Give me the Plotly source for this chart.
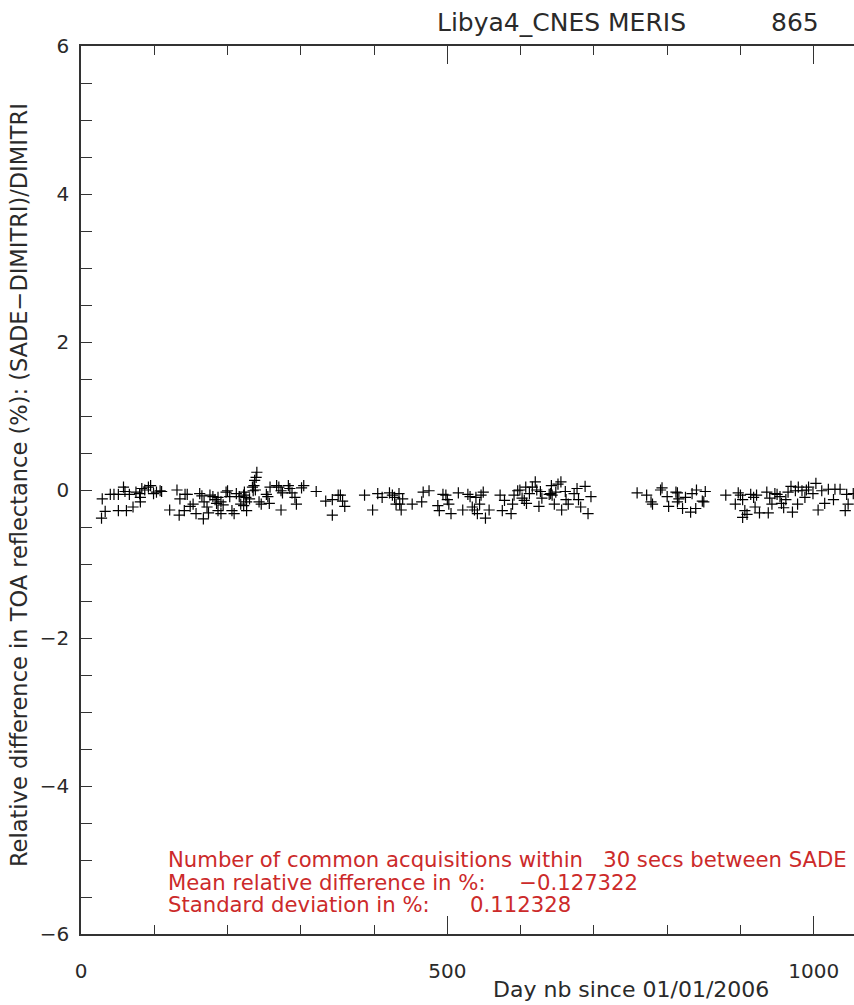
import plotly.graph_objects as go

# Day number since 01/01/2006
days = [
    28, 29, 33, 40, 45, 51, 51, 58, 60, 62, 66, 71, 75, 80, 81, 81, 83, 87, 92, 95,
    99, 103, 108, 110, 121, 131, 134, 135, 141, 142, 145, 149, 153, 157, 162, 165, 167, 168, 172, 174,
    176, 180, 183, 185, 187, 187, 191, 191, 194, 198, 200, 203, 206, 209, 212, 216, 218, 222, 222,
    223, 225, 226, 226, 230, 234, 235, 236, 237, 238, 239, 240, 243, 246, 253, 255, 257, 258, 267,
    270, 273, 273, 275, 283, 285, 288, 292, 294, 301, 304, 321, 334, 343, 343, 351, 354, 357, 360,
    387, 398, 405, 411, 421, 425, 428, 430,
    434, 435, 437, 439, 452, 465, 467, 475, 487, 489, 494, 498, 500, 502, 505, 515, 521, 528, 531,
    534, 537, 539, 541, 544, 546, 549, 552, 557, 572, 575, 578, 587, 589, 591, 596, 599, 602, 605,
    607, 608, 612, 616, 620, 622, 625, 627, 629, 639,
    641, 642, 643, 646, 648, 651, 655, 656, 661, 662, 665, 673, 677, 679, 682, 688, 692, 696,
    759, 772, 778, 780, 791, 793, 800, 802, 812, 814, 814, 816, 821, 825, 832, 834, 839, 840, 848,
    850, 852, 880, 893, 897, 900, 903, 903, 906, 909, 914, 918, 920, 922, 926, 936, 938, 940, 943,
    947, 950, 954, 956, 959, 962, 965, 969, 971, 975, 978, 979, 984, 988, 990, 993, 999, 1003, 1006,
    1011, 1015, 1020, 1027, 1029, 1036, 1043, 1045, 1047, 1054,
]

# Relative difference in %
rel_diff = [
    -0.38, -0.12, -0.29, -0.06, -0.06, -0.06, -0.28, 0.04, -0.02, -0.28, -0.06, -0.23, -0.03, -0.05, -0.10, -0.16, 0.02, 0.00, 0.04, 0.06,
    -0.05, -0.03, -0.01, -0.02, -0.27, 0.00, -0.34, -0.12, -0.28, -0.06, -0.06, -0.22, -0.19, -0.32, -0.05, -0.08, -0.39, -0.16, -0.23, -0.31,
    -0.07, -0.09, -0.13, -0.18, -0.10, -0.28, -0.16, -0.32, -0.20, -0.03, -0.01, -0.09, -0.28, -0.32, -0.05, -0.09, -0.19, -0.07, -0.21,
    -0.03, -0.10, -0.16, -0.28, -0.12, 0.04, -0.01, 0.06, 0.13, 0.00, 0.17, 0.24, -0.16, -0.19, -0.06, -0.09, -0.18, 0.04, 0.06,
    0.04, -0.01, -0.27, -0.04, 0.06, 0.02, -0.04, -0.10, -0.19, 0.03, 0.06, -0.02, -0.15, -0.13, -0.34, -0.07, -0.07, -0.15, -0.22,
    -0.07, -0.27, -0.05, -0.10, -0.04, -0.07, -0.10, -0.19,
    -0.05, -0.19, -0.27, -0.12, -0.19, -0.16, -0.03, -0.01, -0.21, -0.28, -0.06, -0.07, -0.13, -0.19, -0.32, -0.04, -0.27, -0.06, -0.09,
    -0.23, -0.27, -0.10, -0.32, -0.19, -0.07, -0.03, -0.38, -0.27, -0.07, -0.28, -0.14, -0.32, -0.19, -0.07, -0.01, 0.00, -0.11, -0.14,
    0.04, -0.18, -0.05, 0.04, 0.11, 0.00, -0.22, -0.02, -0.11, -0.06,
    -0.05, 0.06, -0.07, -0.19, -0.03, 0.08, 0.11, -0.27, -0.02, -0.13, -0.19, -0.05, 0.02, -0.13, -0.23, 0.05, -0.32, -0.09,
    -0.04, -0.07, -0.16, -0.19, 0.00, 0.03, -0.09, -0.22, -0.03, -0.04, -0.16, -0.12, -0.25, -0.10, -0.30, -0.05, -0.25, 0.00, -0.15,
    -0.16, -0.02, -0.07, -0.19, -0.04, -0.07, -0.13, -0.37, -0.28, -0.33, -0.06, -0.10, -0.23, -0.07, -0.31, -0.03, -0.31, -0.11, -0.19,
    -0.05, -0.06, -0.09, -0.18, -0.24, -0.13, -0.03, 0.05, -0.30, -0.01, -0.19, 0.04, -0.01, -0.10, 0.00, 0.04, -0.05, 0.09, -0.27,
    -0.01, -0.18, 0.01, -0.13, 0.01, 0.01, -0.28, -0.06, -0.19, -0.05,
]

title_left = "Libya4_CNES MERIS"
title_band = "865"
x_title = "Day nb since 01/01/2006"
y_title = "Relative difference in TOA reflectance (%): (SADE\u2212DIMITRI)/DIMITRI"
stat_lines = [
    "Number of common acquisitions within\u00a0\u00a0\u00a030 secs between SADE",
    "Mean relative difference in %:\u00a0\u00a0\u00a0\u00a0\u00a0\u22120.127322",
    "Standard deviation in %:\u00a0\u00a0\u00a0\u00a0\u00a0\u00a00.112328",
]

FONT = "DejaVu Sans"
AX = "#333333"
TXT = "#2a2a2a"
RED = "#cc2a2a"

W, H = 854, 1005
L, T = 81, 46
B = H - 934
plot_w = W - L
plot_h = H - T - B


def px(xp):
    return (xp - L) / plot_w


def py(yp):
    return (H - B - yp) / plot_h


fig = go.Figure()
fig.add_trace(go.Scatter(
    x=days, y=rel_diff, mode="markers",
    marker=dict(symbol="cross-thin-open", size=8, color="black",
                line=dict(color="black", width=1.2)),
    showlegend=False, cliponaxis=True,
))
fig.add_trace(go.Scatter(x=[0], y=[0], xaxis="x2", mode="markers",
                         marker=dict(opacity=0), showlegend=False, hoverinfo="skip"))

xr = [0, plot_w / 0.7327]

fig.update_layout(
    width=W, height=H,
    margin=dict(l=L, r=0, t=T, b=B, pad=0),
    paper_bgcolor="white", plot_bgcolor="white",
    font=dict(family=FONT, size=19, color=TXT),
    xaxis=dict(
        range=xr, showgrid=False, zeroline=False,
        showline=True, linecolor=AX, linewidth=1.5,
        ticks="inside", ticklen=18, tickwidth=1.2, tickcolor=AX,
        tick0=0, dtick=500, ticklabelstandoff=18,
        tickfont=dict(size=20, family=FONT, color=TXT),
        minor=dict(ticks="inside", ticklen=9, dtick=100, tick0=0, tickwidth=1.2, tickcolor=AX, showgrid=False),
    ),
    xaxis2=dict(
        range=xr, overlaying="x", side="top", anchor="y",
        showgrid=False, zeroline=False, showticklabels=False,
        showline=True, linecolor=AX, linewidth=1.5,
        ticks="inside", ticklen=18, tickwidth=1.2, tickcolor=AX,
        tick0=0, dtick=500,
        minor=dict(ticks="inside", ticklen=9, dtick=100, tick0=0, tickwidth=1.2, tickcolor=AX, showgrid=False),
    ),
    yaxis=dict(
        range=[-6, 6], showgrid=False, zeroline=False,
        showline=True, linecolor=AX, linewidth=1.5,
        ticks="inside", ticklen=11, tickwidth=1.2, tickcolor=AX,
        tick0=0, dtick=2, ticklabelstandoff=6,
        tickfont=dict(size=20, family=FONT, color=TXT),
        minor=dict(ticks="inside", ticklen=11, dtick=0.5, tick0=0, tickwidth=1.2, tickcolor=AX, showgrid=False),
    ),
)

ann = []
ann.append(dict(text=title_left, x=px(688), y=py(22), xref="paper", yref="paper",
                xanchor="right", yanchor="middle", showarrow=False,
                font=dict(size=25, family=FONT, color=TXT)))
ann.append(dict(text=title_band, x=px(821), y=py(22), xref="paper", yref="paper",
                xanchor="right", yanchor="middle", showarrow=False,
                font=dict(size=25, family=FONT, color=TXT)))
ann.append(dict(text=x_title, x=px(631), y=py(989), xref="paper", yref="paper",
                xanchor="center", yanchor="middle", showarrow=False,
                font=dict(size=22, family=FONT, color=TXT)))
ann.append(dict(text=y_title, x=px(19), y=py(485), xref="paper", yref="paper",
                xanchor="center", yanchor="middle", showarrow=False, textangle=-90,
                font=dict(size=22.5, family=FONT, color=TXT)))
for line, yc in zip(stat_lines, [859, 882, 904]):
    ann.append(dict(text=line, x=px(166), y=py(yc), xref="paper", yref="paper",
                    xanchor="left", yanchor="middle", showarrow=False,
                    font=dict(size=21.2, family=FONT, color=RED)))
fig.update_layout(annotations=ann)

fig.write_html(
    "out.html",
    config={"displayModeBar": False},
    post_script="document.body.style.margin='0';document.documentElement.style.overflow='hidden';",
)
